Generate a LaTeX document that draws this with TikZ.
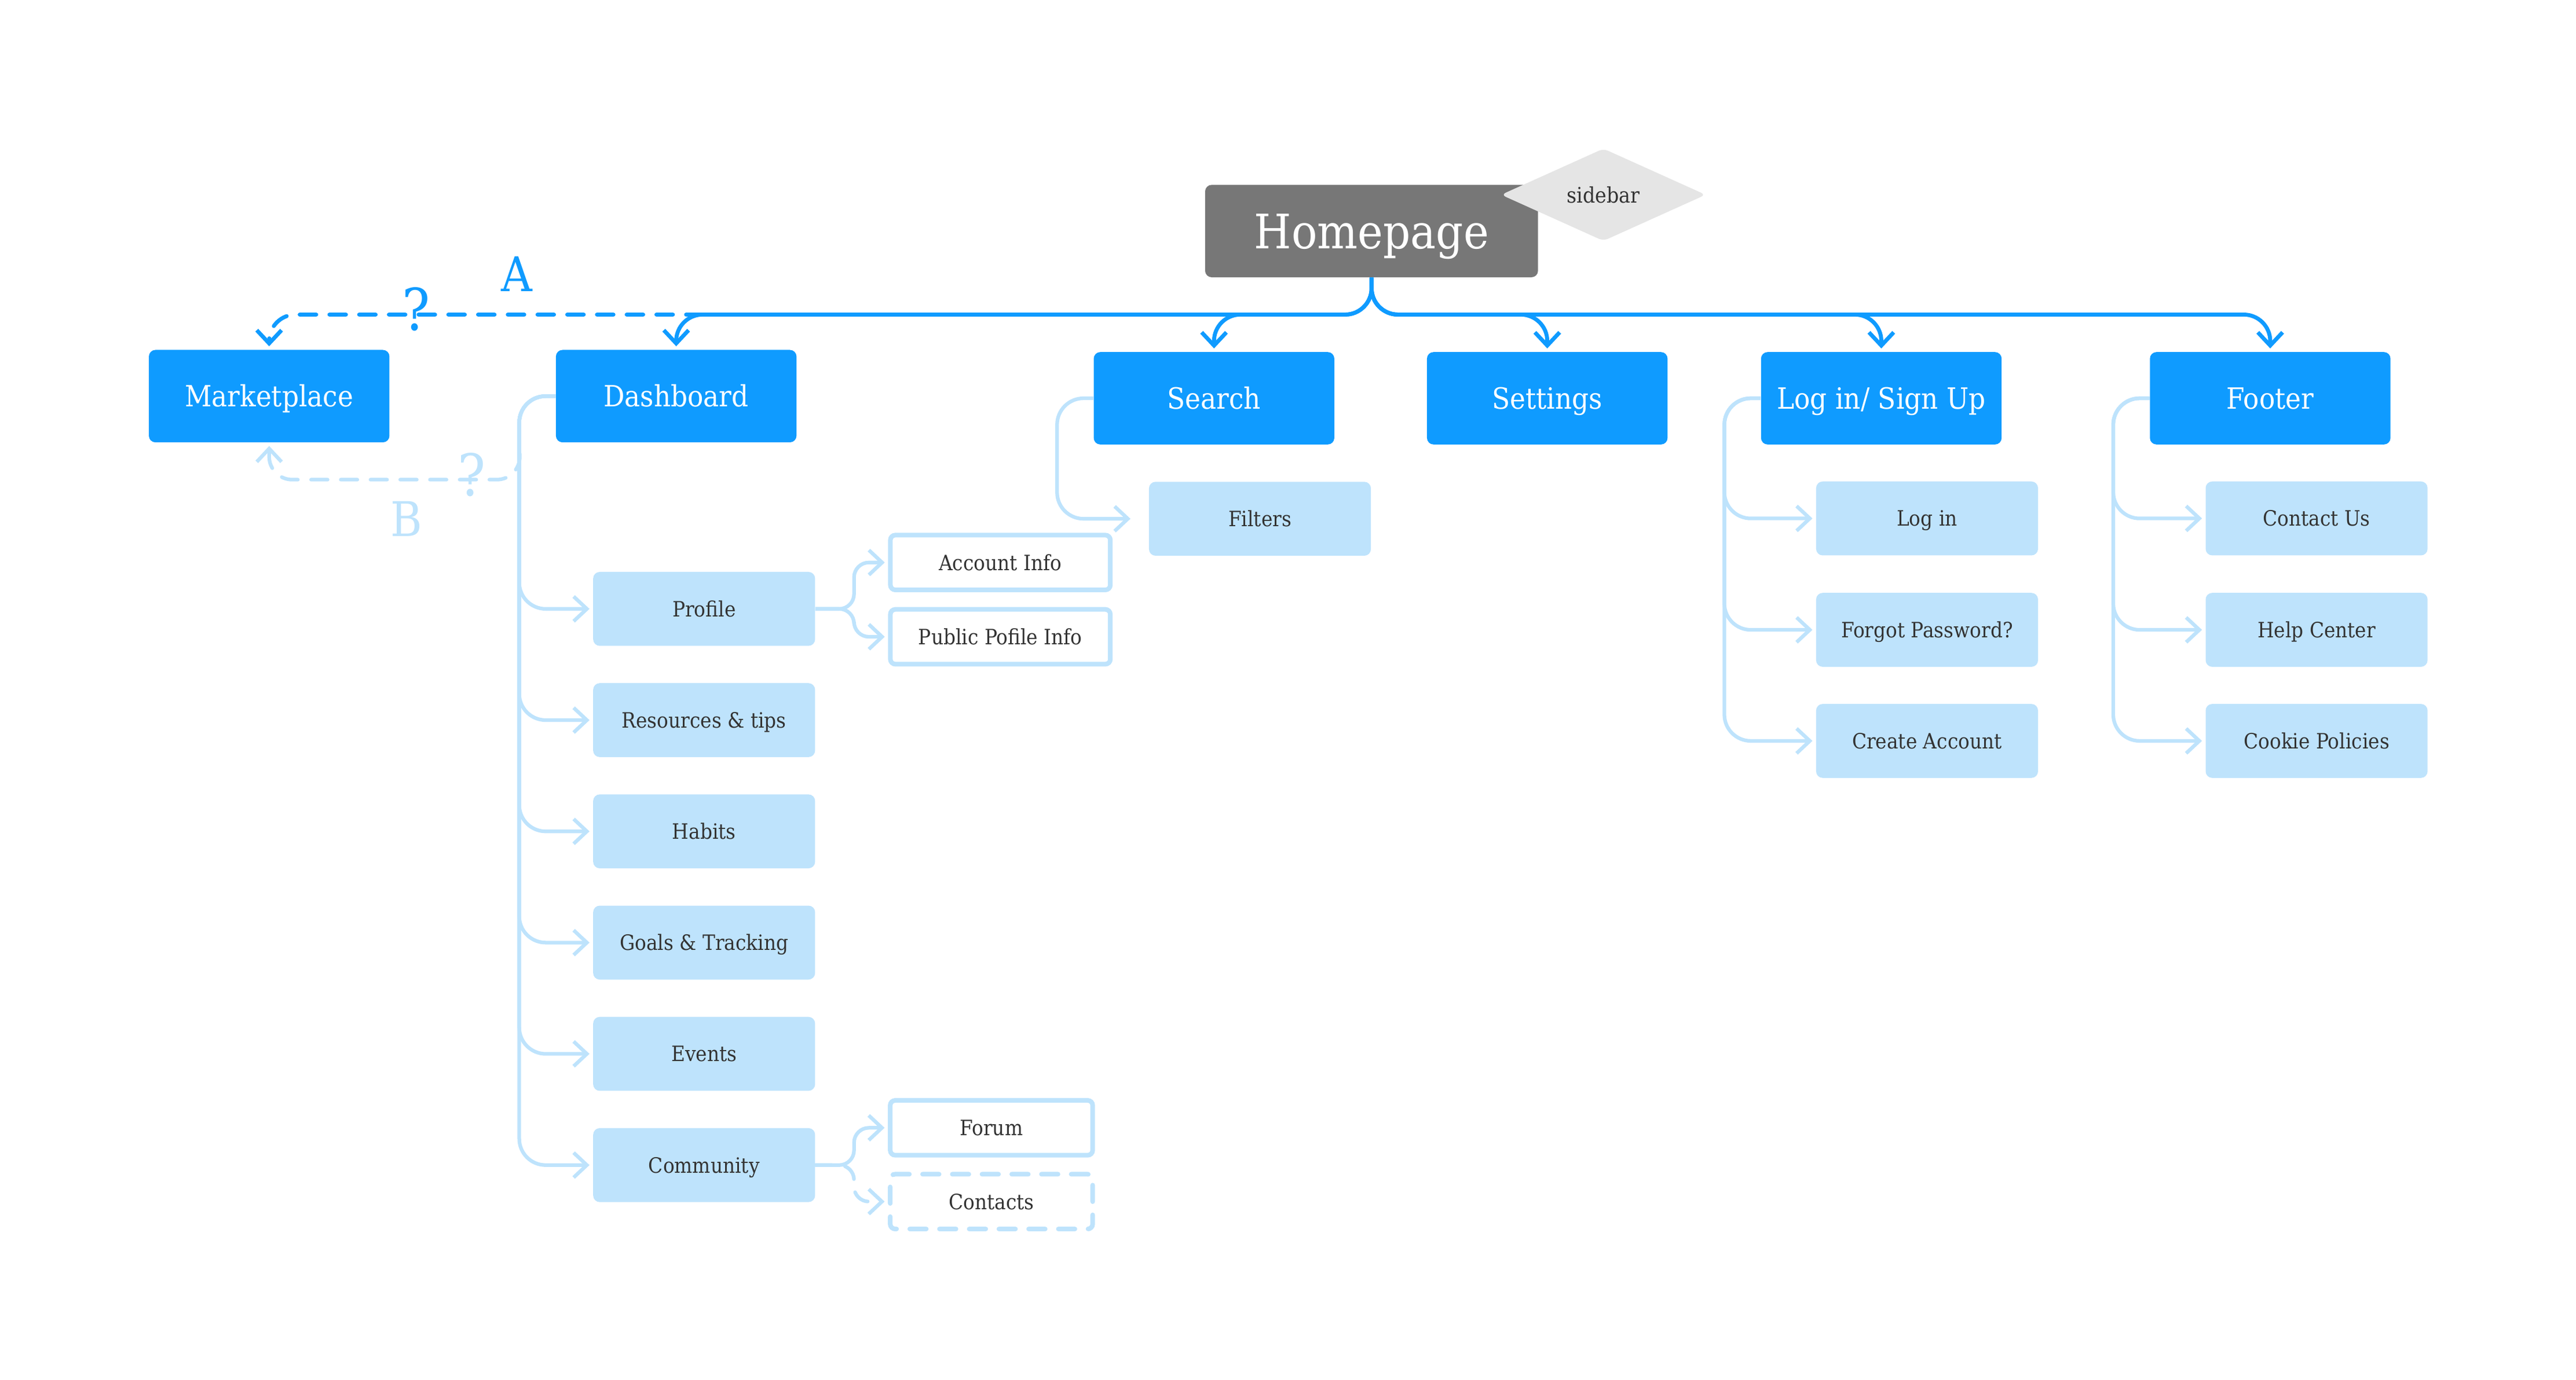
\documentclass[tikz,border=0pt]{standalone}
\usepackage{fontspec}
\setmainfont{DejaVu Serif Condensed}
\usetikzlibrary{arrows.meta,shapes.geometric,calc}
\definecolor{dkblue}{RGB}{15,155,255}
\definecolor{ltblue}{RGB}{190,227,252}
\definecolor{hpgrey}{RGB}{119,119,119}
\definecolor{sbgrey}{RGB}{229,229,229}
\definecolor{txtgrey}{RGB}{51,51,51}

\begin{document}
\begin{tikzpicture}[x=1pt,y=-1pt,
	>={Straight Barb[length=8pt,width=15pt]},
	top/.style={fill=dkblue,text=white,rounded corners=4pt,minimum width=145.7pt,minimum height=56pt,inner sep=0pt,font=\fontsize{17.7}{20}\selectfont,text height=12.9pt,text depth=0pt},
	sub/.style={fill=ltblue,text=txtgrey,rounded corners=4pt,minimum width=134.4pt,minimum height=44.8pt,inner sep=0pt,font=\fontsize{12.8}{15}\selectfont,text height=9.35pt,text depth=0pt},
	leaf/.style={draw=ltblue,line width=2.8pt,fill=white,text=txtgrey,rounded corners=3pt,minimum width=133.2pt,minimum height=33.2pt,inner sep=0pt,font=\fontsize{12.8}{15}\selectfont,text height=9.35pt,text depth=0pt},
	dk/.style={draw=dkblue,line width=2.4pt,rounded corners=16pt,shorten >=2pt},
	lt/.style={draw=ltblue,line width=2.2pt,rounded corners=16pt,shorten >=2pt},
	dsh/.style={dash pattern=on 10pt off 8pt,line cap=round},
	big/.style={inner sep=0pt,font=\fontsize{29}{32}\selectfont},
	qmark/.style={inner sep=0pt,font=\fontsize{35}{40}\selectfont}
]
	\useasboundingbox (0,0) rectangle (1560,836.1);

	\node[fill=hpgrey,text=white,rounded corners=4pt,minimum width=201.6pt,minimum height=56pt,inner sep=0pt,font=\fontsize{28.8}{32}\selectfont,text height=21pt,text depth=0pt] (hp) at (830.6,140) {Homepage};
	\node[diamond,fill=sbgrey,rounded corners=3pt,minimum width=124pt,minimum height=56pt,aspect=2.2,inner sep=0pt,text=txtgrey,font=\fontsize{13}{15}\selectfont] (sb) at (971,118) {sidebar};

	\node[top] (mk) at (163,240) {Marketplace};
	\node[top] (db) at (409.5,240) {Dashboard};
	\node[top] (srch) at (735.2,241.3) {Search};
	\node[top] (set) at (937,241.3) {Settings};
	\node[top] (lg) at (1139.3,241.3) {Log in/ Sign Up};
	\node[top] (ft) at (1374.8,241.3) {Footer};

	\node[sub] (filt) at (763,314.3) {Filters};
	\node[sub] (lgi) at (1167,314.1) {Log in};
	\node[sub] (fpw) at (1167,381.6) {Forgot Password?};
	\node[sub] (cac) at (1167,448.9) {Create Account};
	\node[sub] (cus) at (1402.9,314.1) {Contact Us};
	\node[sub] (hc) at (1402.9,381.6) {Help Center};
	\node[sub] (cp) at (1402.9,448.9) {Cookie Policies};

	\node[sub] (prof) at (426.4,368.9) {Profile};
	\node[sub] (res) at (426.4,436.3) {Resources \& tips};
	\node[sub] (hab) at (426.4,503.7) {Habits};
	\node[sub] (goal) at (426.4,571.1) {Goals \& Tracking};
	\node[sub] (evt) at (426.4,638.5) {Events};
	\node[sub] (com) at (426.4,705.9) {Community};

	\node[leaf] (acc) at (605.8,340.8) {Account Info};
	\node[leaf] (pub) at (605.8,385.8) {Public Pofile Info};
	\node[leaf,minimum width=122.6pt] (frm) at (600.4,683.3) {Forum};
	\node[leaf,dsh,minimum width=122.6pt] (ctc) at (600.4,728) {Contacts};

	\coordinate (hb) at (830.6,190.6);
	\coordinate (bt) at (314.8,275);
	\coordinate (bb) at (314.8,290.6);

	\foreach \n in {db,srch,set,lg,ft}
		\draw[dk,->] (hp.south) -- (hb) -| (\n.north);
	\draw[dk,dsh,->] ($(db.north |- hb)+(16,0)$) -| (mk.north);
	\draw[lt,dsh,->,rounded corners=14pt] (bt) -- (bb) -| (mk.south);

	\foreach \n in {prof,res,hab,goal,evt,com}
		\draw[lt,->] (db.west) -- ++(-22,0) |- (\n.west);
	\draw[lt,->,shorten >=11pt] (srch.west) -- ++(-22,0) |- (filt.west);
	\foreach \n in {lgi,fpw,cac}
		\draw[lt,->] (lg.west) -- ++(-22,0) |- (\n.west);
	\foreach \n in {cus,hc,cp}
		\draw[lt,->] (ft.west) -- ++(-22,0) |- (\n.west);

	\foreach \n in {acc,pub}
		\draw[lt,->,rounded corners=9pt] (prof.east) -- ++(23.4,0) |- (\n.west);
	\draw[lt,->,rounded corners=9pt] (com.east) -- ++(23.4,0) |- (frm.west);
	\draw[lt,dsh,->,rounded corners=9pt] (com.east) -- ++(23.4,0) |- (ctc.west);

	\node[big,dkblue] (la) at (313,166) {A};
	\node[qmark,dkblue] (qa) at (252,187.5) {?};
	\node[big,ltblue] (lb) at (246,314.4) {B};
	\node[qmark,ltblue] (qb) at (285.6,287.6) {?};
\end{tikzpicture}
\end{document}
